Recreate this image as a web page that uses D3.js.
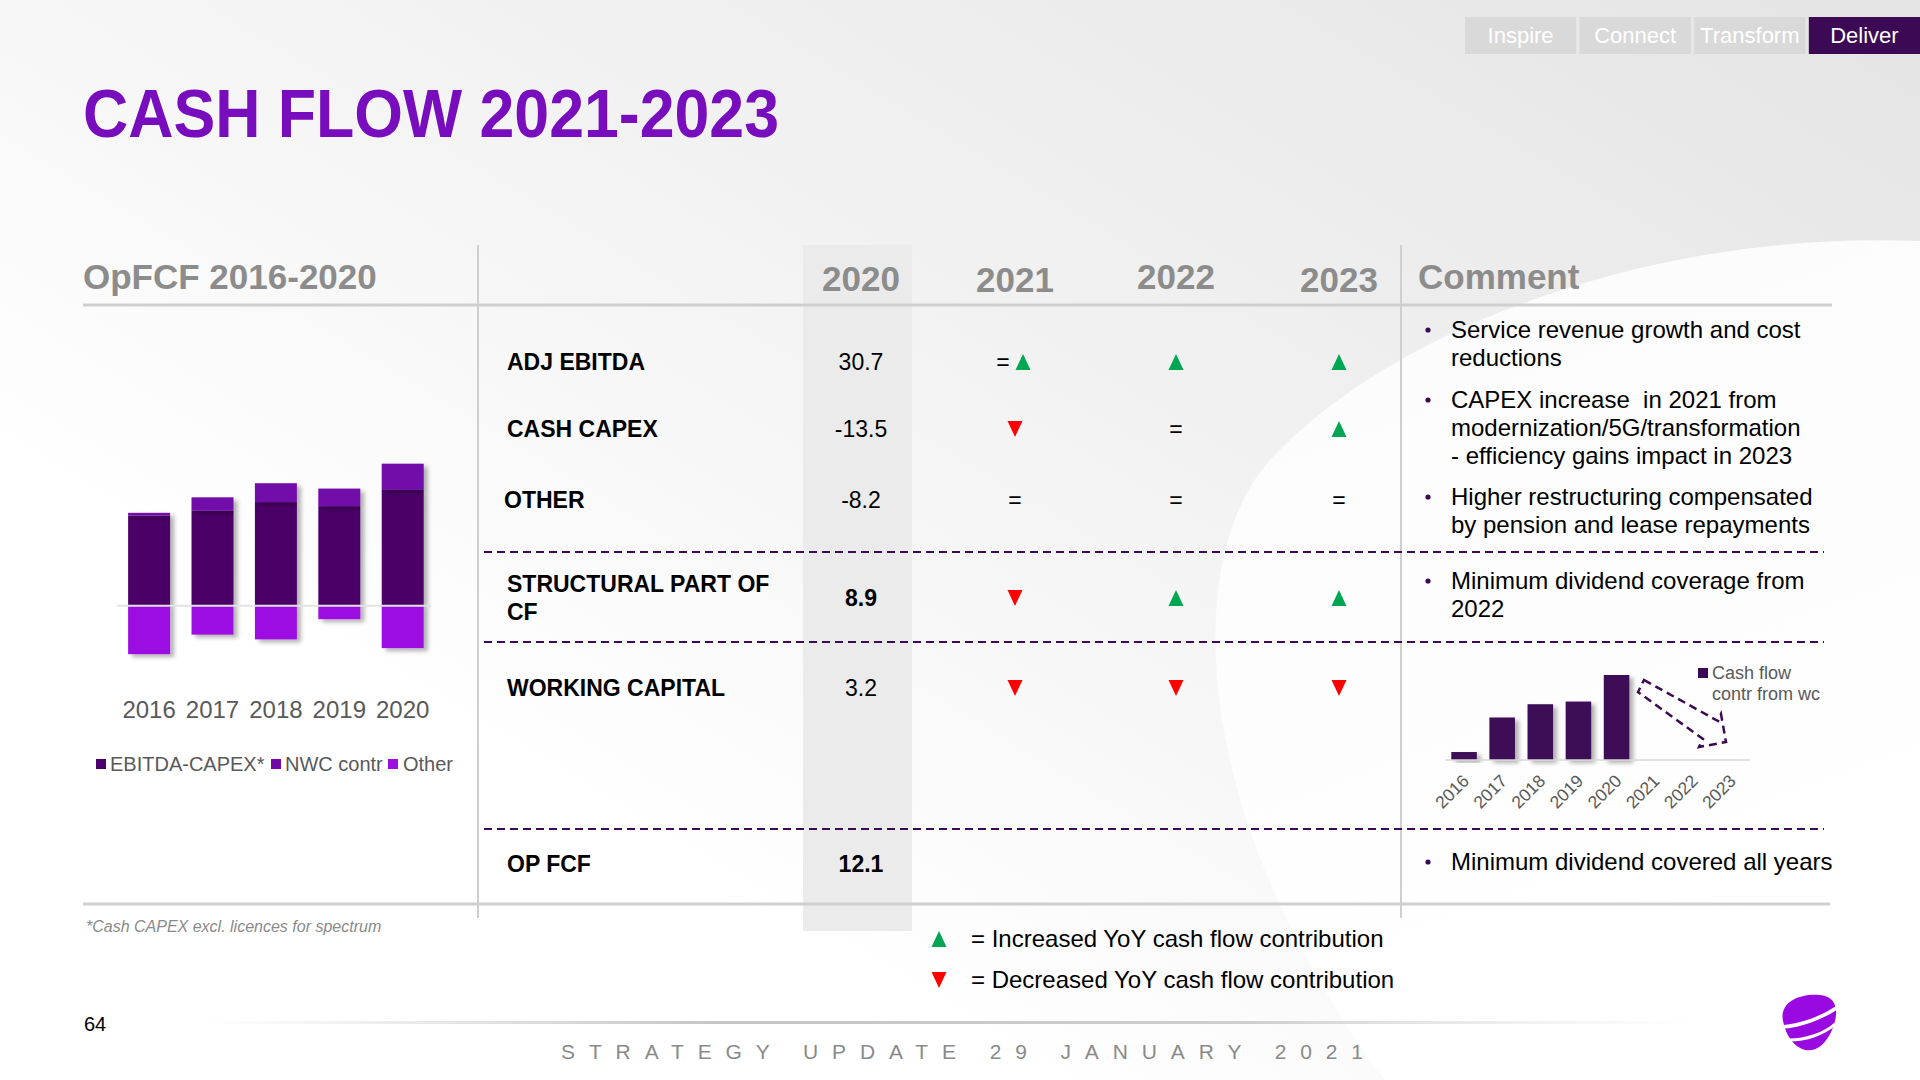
<!DOCTYPE html>
<html><head><meta charset="utf-8">
<script src="https://cdn.jsdelivr.net/npm/d3@7"></script>
<style>
body{margin:0;background:#fff;overflow:hidden}
svg{display:block}
text{font-family:"Liberation Sans",Arial,Helvetica,sans-serif}
</style>
</head><body>
<svg id="c" width="1920" height="1080"></svg>
<script>
// ---------------- DATA ----------------
const navTabs = ["Inspire","Connect","Transform","Deliver"];
const titleText = "CASH FLOW 2021-2023";
const leftHeader = "OpFCF 2016-2020";
const histYears = ["2016","2017","2018","2019","2020"];
const ebitdaCapex = [13.4,14.1,15.4,14.8,17.2];
const nwcContr   = [0.4,2.0,2.8,2.6,3.9];
const otherContr = [-7.2,-4.3,-5.0,-2.0,-6.3];
const seriesNames = ["EBITDA-CAPEX*","NWC contr","Other"];
const tableYears = ["2020","2021","2022","2023"];
const rowLabels = [["ADJ EBITDA"],["CASH CAPEX"],["OTHER"],["STRUCTURAL PART OF","CF"],["WORKING CAPITAL"],["OP FCF"]];
const value2020 = ["30.7","-13.5","-8.2","8.9","3.2","12.1"];
const boldValue = [false,false,false,true,false,true];
const trend2021 = ["eq-up","down","eq","down","down",""];
const trend2022 = ["up","eq","eq","up","down",""];
const trend2023 = ["up","up","eq","up","down",""];
const comments = [
  ["Service revenue growth and cost","reductions"],
  ["CAPEX increase  in 2021 from","modernization/5G/transformation","- efficiency gains impact in 2023"],
  ["Higher restructuring compensated","by pension and lease repayments"],
  ["Minimum dividend coverage from","2022"],
  ["Minimum dividend covered all years"]
];
const wcYears = ["2016","2017","2018","2019","2020","2021","2022","2023"];
const wcValues = [0.3,1.6,2.1,2.2,3.2,null,null,null];
const wcLegend = ["Cash flow","contr from wc"];
const trendLegend = ["= Increased YoY cash flow contribution","= Decreased YoY cash flow contribution"];
const footnote = "*Cash CAPEX excl. licences for spectrum";
const pageNo = "64";
const footerText = "STRATEGY UPDATE 29 JANUARY 2021";

// ---------------- STYLE ----------------
const C = {
  title:"#770dbc", grey:"#8c8c8c", dark:"#3c0a55", text:"#000",
  ebitda:"#4b0268", nwc:"#7109a8", other:"#9b10e0",
  green:"#00a651", red:"#ff0000", rule:"#cfcfcf", shade:"#ebebeb"
};

const svg = d3.select("#c");
const defs = svg.append("defs");
const bgGrad = defs.append("linearGradient").attr("id","bg").attr("x1","0.25").attr("y1","0.7").attr("x2","1").attr("y2","0");
bgGrad.append("stop").attr("offset","0").attr("stop-color","#ffffff");
bgGrad.append("stop").attr("offset","0.45").attr("stop-color","#f2f2f2");
bgGrad.append("stop").attr("offset","1").attr("stop-color","#e4e4e4");
const swGrad = defs.append("linearGradient").attr("id","sw").attr("x1","0").attr("y1","0").attr("x2","0.3").attr("y2","1");
swGrad.append("stop").attr("offset","0").attr("stop-color","#fbfbfb");
swGrad.append("stop").attr("offset","1").attr("stop-color","#ffffff");
const ftGrad = defs.append("linearGradient").attr("id","ft").attr("x1","0").attr("x2","1");
ftGrad.append("stop").attr("offset","0").attr("stop-color","#d0d0d0").attr("stop-opacity",0);
ftGrad.append("stop").attr("offset","0.35").attr("stop-color","#c4c4c4");
ftGrad.append("stop").attr("offset","0.7").attr("stop-color","#cfcfcf");
ftGrad.append("stop").attr("offset","1").attr("stop-color","#e0e0e0").attr("stop-opacity",0);
const sh = defs.append("filter").attr("id","shadow").attr("x","-20%").attr("y","-20%").attr("width","150%").attr("height","150%");
sh.append("feDropShadow").attr("dx",4).attr("dy",3).attr("stdDeviation",2).attr("flood-color","#000").attr("flood-opacity",0.3);

// background
svg.append("rect").attr("width",1920).attr("height",1080).attr("fill","url(#bg)");
svg.append("path").attr("d","M1920,241 C1650,230 1390,330 1270,460 C1180,560 1190,820 1385,1080 L1920,1080 Z").attr("fill","url(#sw)");

// nav tabs
const navX = d3.scaleBand().domain(navTabs).range([1465,1920]).paddingInner(0.03);
const nav = svg.append("g").selectAll("g").data(navTabs).join("g");
nav.append("rect").attr("x",d=>navX(d)).attr("y",17).attr("width",navX.bandwidth()).attr("height",37)
  .attr("fill",d=>d==="Deliver"?C.dark:"#d9d9d9");
nav.append("text").attr("x",d=>navX(d)+navX.bandwidth()/2).attr("y",43).attr("text-anchor","middle")
  .attr("font-size",22).attr("fill","#fff").text(d=>d);

// title
svg.append("text").attr("x",83).attr("y",137).attr("font-family","Lato, 'Open Sans', sans-serif")
  .attr("font-weight",900).attr("font-size",68).attr("fill",C.title)
  .attr("textLength",696).attr("lengthAdjust","spacingAndGlyphs").text(titleText);

// 2020 column shading
svg.append("rect").attr("x",803).attr("y",245).attr("width",109).attr("height",686).attr("fill",C.shade);

// table rules
svg.append("line").attr("x1",83).attr("x2",1832).attr("y1",305).attr("y2",305).attr("stroke",C.rule).attr("stroke-width",3);
svg.append("line").attr("x1",83).attr("x2",1830).attr("y1",904).attr("y2",904).attr("stroke",C.rule).attr("stroke-width",3);
[478,1401].forEach(x=>svg.append("line").attr("x1",x).attr("x2",x).attr("y1",245).attr("y2",918).attr("stroke",C.rule).attr("stroke-width",2));
[552,642,829].forEach(y=>svg.append("line").attr("x1",484).attr("x2",1824).attr("y1",y).attr("y2",y)
  .attr("stroke",C.dark).attr("stroke-width",2).attr("stroke-dasharray","8,5"));

// headers
svg.append("text").attr("x",83).attr("y",289).attr("font-size",35).attr("font-weight",700).attr("fill",C.grey).text(leftHeader);
svg.append("text").attr("x",1418).attr("y",289).attr("font-size",35).attr("font-weight",700).attr("fill",C.grey).text("Comment");
const colX = {"2020":861,"2021":1015,"2022":1176,"2023":1339};
const headY = {"2020":291,"2021":292,"2022":289,"2023":292};
svg.append("g").selectAll("text").data(tableYears).join("text")
  .attr("x",d=>colX[d]).attr("y",d=>headY[d]).attr("text-anchor","middle")
  .attr("font-size",35).attr("font-weight",700).attr("fill",C.grey).text(d=>d);

// rows
const rowY = [362,429,500,598,688,864];
const rowLabelX = [507,507,504,507,507,507];
const rg = svg.append("g");
rowLabels.forEach((lines,i)=>{
  const n = lines.length;
  lines.forEach((ln,j)=>{
    rg.append("text").attr("x",rowLabelX[i]).attr("y",rowY[i]+8+(j-(n-1)/2)*28)
      .attr("font-size",23).attr("font-weight",700).attr("fill",C.text).text(ln);
  });
  rg.append("text").attr("x",colX["2020"]).attr("y",rowY[i]+8).attr("text-anchor","middle")
    .attr("font-size",23).attr("font-weight",boldValue[i]?700:400).attr("fill",C.text).text(value2020[i]);
});

function tri(g,cx,cy,up,w,h){
  const p = up ? `M${cx-w/2},${cy+h/2} L${cx+w/2},${cy+h/2} L${cx},${cy-h/2} Z`
               : `M${cx-w/2},${cy-h/2} L${cx+w/2},${cy-h/2} L${cx},${cy+h/2} Z`;
  g.append("path").attr("d",p).attr("fill",up?C.green:C.red);
}
function eq(g,cx,cy){
  g.append("text").attr("x",cx).attr("y",cy+8).attr("text-anchor","middle").attr("font-size",23).attr("fill",C.text).text("=");
}
const trendCols = [["2021",trend2021],["2022",trend2022],["2023",trend2023]];
trendCols.forEach(([yr,arr])=>{
  arr.forEach((t,i)=>{
    const cx = colX[yr], cy = rowY[i];
    if(t==="up") tri(rg,cx,cy,true,15,16);
    else if(t==="down") tri(rg,cx,cy,false,15,16);
    else if(t==="eq") eq(rg,cx,cy);
    else if(t==="eq-up"){ eq(rg,cx-12,cy); tri(rg,cx+8,cy,true,15,16); }
  });
});

// comments
const commentY = [338,408,505,589,870];
const cg = svg.append("g");
comments.forEach((lines,i)=>{
  cg.append("circle").attr("cx",1428).attr("cy",commentY[i]-8).attr("r",2.6).attr("fill",C.dark);
  lines.forEach((ln,j)=>{
    cg.append("text").attr("x",1451).attr("y",commentY[i]+j*28).attr("font-size",24).attr("fill",C.text)
      .attr("xml:space","preserve").style("white-space","pre").text(ln);
  });
});

// ---------------- LEFT STACKED CHART ----------------
const histData = histYears.map((y,i)=>({year:y, e:ebitdaCapex[i], n:nwcContr[i], o:otherContr[i]}));
const stack = d3.stack().keys(["e","n","o"]).offset(d3.stackOffsetDiverging);
const stacked = stack(histData);
const xL = d3.scaleBand().domain(histYears).range([117.4,434.4]).paddingInner(0.338).paddingOuter(0.169);
const yL = d3.scaleLinear().domain([-10,20]).range([605.7+67.3,605.7-134.6]);
const colorL = {e:C.ebitda,n:C.nwc,o:C.other};
const lg = svg.append("g");
lg.selectAll("g.s").data(stacked).join("g").attr("class","s").attr("fill",d=>colorL[d.key])
  .attr("filter","url(#shadow)")
  .selectAll("rect").data(d=>d).join("rect")
  .attr("x",d=>xL(d.data.year)).attr("width",xL.bandwidth())
  .attr("y",d=>yL(Math.max(d[0],d[1]))).attr("height",d=>Math.abs(yL(d[0])-yL(d[1])));
lg.append("line").attr("x1",117).attr("x2",431).attr("y1",yL(0)).attr("y2",yL(0)).attr("stroke","#e2e2e2").attr("stroke-width",2);
lg.selectAll("text.yr").data(histYears).join("text").attr("class","yr")
  .attr("x",d=>xL(d)+xL.bandwidth()/2).attr("y",718).attr("text-anchor","middle")
  .attr("font-size",24).attr("fill","#595959").text(d=>d);
const legX = [[96,110],[271,285],[388,403]];
seriesNames.forEach((s,i)=>{
  lg.append("rect").attr("x",legX[i][0]).attr("y",759).attr("width",10).attr("height",10).attr("fill",[C.ebitda,C.nwc,C.other][i]);
  lg.append("text").attr("x",legX[i][1]).attr("y",771).attr("font-size",20).attr("fill","#595959").text(s);
});

// footnote
svg.append("text").attr("x",86).attr("y",932).attr("font-size",16).attr("font-style","italic").attr("fill","#8a8a8a").text(footnote);

// ---------------- SMALL WC CHART ----------------
const xW = d3.scaleBand().domain(wcYears).range([1445,1750]).paddingInner(0.33).paddingOuter(0.165);
const yW = d3.scaleLinear().domain([0,3.2]).range([760,675]);
const wg = svg.append("g");
wg.selectAll("rect").data(wcYears.map((y,i)=>({y,v:wcValues[i]})).filter(d=>d.v!==null)).join("rect")
  .attr("x",d=>xW(d.y)).attr("width",xW.bandwidth()).attr("y",d=>yW(d.v)).attr("height",d=>yW(0)-yW(d.v))
  .attr("fill",C.dark).attr("filter","url(#shadow)");
wg.append("line").attr("x1",1445).attr("x2",1750).attr("y1",yW(0)).attr("y2",yW(0)).attr("stroke","#d9d9d9").attr("stroke-width",1.5);
wg.selectAll("text.wl").data(wcYears).join("text").attr("class","wl")
  .attr("transform",d=>`translate(${xW(d)+xW.bandwidth()/2+6},${yW(0)+22}) rotate(-45)`)
  .attr("text-anchor","end").attr("font-size",17.5).attr("fill","#595959").text(d=>d);
// dashed arrow
wg.append("path").attr("d","M1644,680 L1718,721 L1721,714 L1726,742 L1699,747 L1703,739 L1638,692 Z")
  .attr("fill","none").attr("stroke",C.dark).attr("stroke-width",2.5).attr("stroke-dasharray","8,5");
wg.append("rect").attr("x",1698).attr("y",668).attr("width",10).attr("height",10).attr("fill",C.dark);
wcLegend.forEach((t,i)=>wg.append("text").attr("x",1712).attr("y",679+i*21).attr("font-size",18).attr("fill","#595959").text(t));

// trend legend
tri(svg,939,939,true,15,16);
tri(svg,939,980,false,15,16);
trendLegend.forEach((t,i)=>svg.append("text").attr("x",971).attr("y",947+i*41).attr("font-size",24).attr("fill",C.text).text(t));

// footer
svg.append("rect").attr("x",200).attr("y",1021).attr("width",1500).attr("height",3).attr("fill","url(#ft)");
svg.append("text").attr("x",84).attr("y",1031).attr("font-size",20).attr("fill","#000").text(pageNo);
svg.append("text").attr("x",561).attr("y",1059).attr("font-size",21).attr("fill","#8a8a8a")
  .attr("textLength",802).attr("lengthAdjust","spacing").text(footerText);

// logo
const logo = svg.append("g");
logo.append("path").attr("d","M1783,1021 C1779,1002 1800,993 1820,995 C1840,997 1838,1016 1832,1030 C1825,1046 1815,1052 1805,1050 C1794,1047 1786,1036 1783,1021 Z").attr("fill","#990ae3");
logo.append("path").attr("d","M1781,1027 C1800,1026 1822,1018 1838,1007").attr("stroke","#fff").attr("stroke-width",3.5).attr("fill","none");
logo.append("path").attr("d","M1789,1040 C1806,1040 1824,1034 1835,1024").attr("stroke","#fff").attr("stroke-width",3).attr("fill","none");
</script>
</body></html>
